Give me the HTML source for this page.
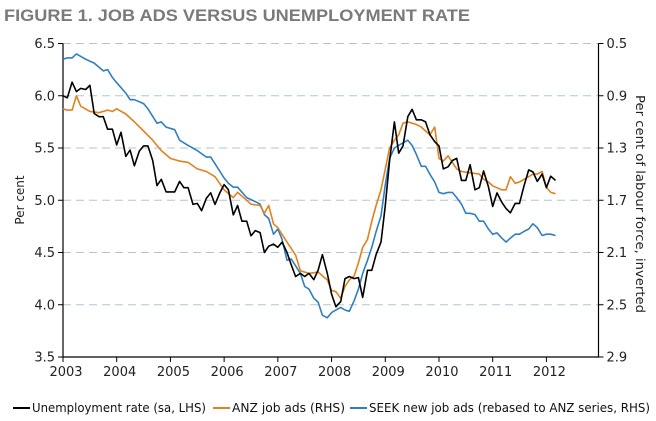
<!DOCTYPE html>
<html><head><meta charset="utf-8"><style>
html,body{margin:0;padding:0;background:#fff;}
svg{display:block;font-family:"DejaVu Sans","Liberation Sans",sans-serif;}
</style></head><body>
<svg id="chart" width="656" height="421" viewBox="0 0 656 421">
<text x="4" y="21" font-size="17" font-weight="bold" fill="#7a7a7a" textLength="466" lengthAdjust="spacingAndGlyphs" font-family="Liberation Sans, sans-serif">FIGURE 1. JOB ADS VERSUS UNEMPLOYMENT RATE</text>
<g id="grid"></g>
<g id="axes"></g>
<g id="series"></g>
<text transform="translate(24,200) rotate(-90)" text-anchor="middle" font-size="12" fill="#222">Per cent</text>
<text transform="translate(636,204) rotate(90)" text-anchor="middle" font-size="12" fill="#222" textLength="218" lengthAdjust="spacingAndGlyphs">Per cent of labour force, inverted</text>
<g font-size="12" fill="#111">
<g>
<line x1="13" y1="408" x2="30" y2="408" stroke="#000" stroke-width="2"/>
<text x="32" y="412" textLength="174" lengthAdjust="spacingAndGlyphs">Unemployment rate (sa, LHS)</text></g>
<g>
<line x1="213" y1="408" x2="230" y2="408" stroke="#e0821e" stroke-width="2"/>
<text x="232" y="412" textLength="113" lengthAdjust="spacingAndGlyphs">ANZ job ads (RHS)</text></g>
<g>
<line x1="350" y1="408" x2="367" y2="408" stroke="#2f7fc0" stroke-width="2"/>
<text x="369" y="412" textLength="281" lengthAdjust="spacingAndGlyphs">SEEK new job ads (rebased to ANZ series, RHS)</text></g>
</g>
</svg>
<script>
const unempDates=[2003,2003.08,2003.17,2003.25,2003.33,2003.42,2003.5,2003.58,2003.67,2003.75,2003.83,2003.92,2004,2004.08,2004.17,2004.25,2004.33,2004.42,2004.5,2004.58,2004.67,2004.75,2004.83,2004.92,2005,2005.08,2005.17,2005.25,2005.33,2005.42,2005.5,2005.58,2005.67,2005.75,2005.83,2005.92,2006,2006.08,2006.17,2006.25,2006.33,2006.42,2006.5,2006.58,2006.67,2006.75,2006.83,2006.92,2007,2007.08,2007.17,2007.25,2007.33,2007.42,2007.5,2007.58,2007.67,2007.75,2007.83,2007.92,2008,2008.08,2008.17,2008.25,2008.33,2008.42,2008.5,2008.58,2008.67,2008.75,2008.83,2008.92,2009,2009.08,2009.17,2009.25,2009.33,2009.42,2009.5,2009.58,2009.67,2009.75,2009.83,2009.92,2010,2010.08,2010.17,2010.25,2010.33,2010.42,2010.5,2010.58,2010.67,2010.75,2010.83,2010.92,2011,2011.08,2011.17,2011.25,2011.33,2011.42,2011.5,2011.58,2011.67,2011.75,2011.83,2011.92,2012,2012.08,2012.17];
const unempValues=[6.0,5.98,6.13,6.04,6.07,6.06,6.10,5.83,5.80,5.80,5.68,5.68,5.53,5.65,5.42,5.48,5.33,5.47,5.52,5.52,5.38,5.14,5.20,5.08,5.08,5.08,5.18,5.12,5.12,4.96,4.97,4.90,5.02,5.07,4.96,5.07,5.15,5.10,4.86,4.95,4.80,4.80,4.66,4.71,4.69,4.50,4.56,4.58,4.55,4.60,4.50,4.38,4.27,4.30,4.27,4.30,4.24,4.33,4.48,4.30,4.10,3.98,4.03,4.25,4.27,4.25,4.26,4.07,4.33,4.33,4.48,4.60,4.95,5.38,5.75,5.45,5.52,5.80,5.87,5.77,5.77,5.75,5.63,5.56,5.52,5.30,5.32,5.38,5.40,5.19,5.19,5.34,5.10,5.12,5.28,5.13,4.94,5.07,4.98,4.92,4.88,4.97,4.97,5.13,5.29,5.27,5.18,5.25,5.12,5.23,5.19];
const anzDates=[2003,2003.08,2003.17,2003.25,2003.33,2003.5,2003.67,2003.83,2003.92,2004,2004.17,2004.33,2004.5,2004.67,2004.83,2005,2005.17,2005.33,2005.5,2005.67,2005.83,2006,2006.17,2006.25,2006.42,2006.5,2006.67,2006.75,2006.83,2006.92,2007,2007.17,2007.33,2007.42,2007.58,2007.75,2007.92,2008,2008.08,2008.17,2008.25,2008.33,2008.42,2008.5,2008.58,2008.67,2008.75,2008.83,2008.92,2009,2009.08,2009.17,2009.25,2009.33,2009.42,2009.5,2009.58,2009.67,2009.75,2009.83,2009.92,2010,2010.08,2010.17,2010.25,2010.33,2010.42,2010.58,2010.75,2010.83,2010.92,2011,2011.17,2011.25,2011.33,2011.42,2011.5,2011.67,2011.75,2011.83,2011.92,2012,2012.08,2012.17];
const anzValues=[1.00,1.01,1.01,0.90,0.98,1.02,1.03,1.01,1.02,1.00,1.04,1.10,1.17,1.24,1.32,1.38,1.40,1.41,1.46,1.48,1.52,1.62,1.68,1.64,1.70,1.73,1.74,1.80,1.74,1.88,1.91,2.02,2.12,2.24,2.26,2.25,2.31,2.39,2.40,2.45,2.36,2.31,2.28,2.18,2.06,2.00,1.86,1.74,1.62,1.46,1.30,1.24,1.20,1.11,1.10,1.11,1.12,1.14,1.17,1.20,1.14,1.38,1.40,1.36,1.41,1.46,1.48,1.49,1.50,1.54,1.56,1.59,1.62,1.62,1.52,1.57,1.56,1.52,1.50,1.50,1.48,1.60,1.64,1.65];
const seekDates=[2003,2003.08,2003.17,2003.25,2003.42,2003.58,2003.75,2003.83,2003.92,2004,2004.17,2004.25,2004.33,2004.5,2004.58,2004.75,2004.83,2004.92,2005.08,2005.17,2005.33,2005.5,2005.67,2005.75,2005.83,2006,2006.08,2006.17,2006.25,2006.42,2006.58,2006.67,2006.75,2006.83,2006.92,2007,2007.08,2007.17,2007.25,2007.42,2007.5,2007.58,2007.67,2007.75,2007.83,2007.92,2008,2008.08,2008.17,2008.25,2008.33,2008.42,2008.5,2008.58,2008.67,2008.75,2008.83,2008.92,2009,2009.08,2009.17,2009.25,2009.33,2009.42,2009.5,2009.58,2009.67,2009.75,2009.83,2009.92,2010,2010.08,2010.17,2010.25,2010.33,2010.42,2010.5,2010.58,2010.67,2010.75,2010.83,2010.92,2011,2011.08,2011.17,2011.25,2011.33,2011.42,2011.5,2011.58,2011.67,2011.75,2011.83,2011.92,2012,2012.08,2012.17];
const seekValues=[0.62,0.61,0.61,0.58,0.62,0.65,0.71,0.70,0.76,0.80,0.88,0.93,0.93,0.96,1.00,1.11,1.10,1.14,1.16,1.24,1.28,1.32,1.37,1.37,1.42,1.53,1.57,1.60,1.60,1.68,1.71,1.73,1.81,1.84,1.96,1.92,2.00,2.16,2.15,2.26,2.36,2.38,2.45,2.48,2.58,2.60,2.56,2.54,2.52,2.54,2.55,2.47,2.38,2.26,2.16,2.06,1.94,1.82,1.58,1.38,1.30,1.28,1.26,1.24,1.28,1.35,1.44,1.44,1.50,1.56,1.64,1.65,1.64,1.64,1.68,1.73,1.80,1.80,1.81,1.86,1.86,1.92,1.96,1.95,1.99,2.02,1.99,1.96,1.96,1.94,1.92,1.88,1.91,1.97,1.96,1.96,1.97];
const leftTicks=[3.5,4.0,4.5,5.0,5.5,6.0,6.5];
const rightTicks=[0.5,0.9,1.3,1.7,2.1,2.5,2.9];
const yearTicks=[2003,2004,2005,2006,2007,2008,2009,2010,2011,2012];

const NS="http://www.w3.org/2000/svg";
const X0=63,X1=598.5,Y0=43.5,Y1=357;
const xMin=2003,xMax=2012.97;
function xs(d){return X0+(d-xMin)/(xMax-xMin)*(X1-X0);}
function yL(v){return Y1-(v-3.5)/3*(Y1-Y0);}
function yR(v){return Y0+(v-0.5)/2.4*(Y1-Y0);}
function mk(tag,attrs,parent){const e=document.createElementNS(NS,tag);for(const k in attrs)e.setAttribute(k,attrs[k]);parent.appendChild(e);return e;}
const grid=document.getElementById('grid'),axes=document.getElementById('axes'),series=document.getElementById('series');

leftTicks.forEach((t,i)=>{
  const y=yL(t);
  if(t>3.5){const g=mk('line',{x1:X0,x2:X1,y1:y,y2:y,stroke:'#b3c5d1','stroke-width':1,'stroke-dasharray':'8,5'},grid);
    
    }
  const tk=mk('line',{x1:X0-5,x2:X0,y1:y,y2:y,stroke:'#000'},axes);
  
  
  const lb=mk('text',{x:X0-8,y:y+4.5,'text-anchor':'end','font-size':13,fill:'#222'},axes);
  
  
  lb.textContent=t.toFixed(1);
});
rightTicks.forEach(t=>{
  const y=yR(t);
  const tk=mk('line',{x1:X1,x2:X1+5,y1:y,y2:y,stroke:'#000'},axes);
  
  
  const lb=mk('text',{x:X1+8,y:y+4.5,'font-size':13,fill:'#222'},axes);
  
  
  lb.textContent=t.toFixed(1);
});
yearTicks.forEach(d=>{
  const x=xs(d);
  const tk=mk('line',{x1:x,x2:x,y1:Y1,y2:Y1+5,stroke:'#000'},axes);
  
  
  const lb=mk('text',{x:x+3,y:Y1+19,'text-anchor':'middle','font-size':13,fill:'#222'},axes);
  
  
  lb.textContent=d;
});
const ax=mk('path',{d:`M${X0},${Y0}V${Y1}H${X1}V${Y0}`,fill:'none',stroke:'#000','stroke-width':1.2},axes);



function line(dates,vals,scale,color,name){
  const d=dates.map((t,i)=>(i?'L':'M')+xs(t).toFixed(1)+','+scale(vals[i]).toFixed(1)).join('');
  const p=mk('path',{d:d,fill:'none',stroke:color,'stroke-width':1.6,'stroke-linejoin':'round'},series);
  
  
}
line(seekDates,seekValues,yR,'#2f7fc0','seek-series-line');
line(anzDates,anzValues,yR,'#e0821e','anz-series-line');
line(unempDates,unempValues,yL,'#000000','unemployment-series-line');
</script>
</body></html>
